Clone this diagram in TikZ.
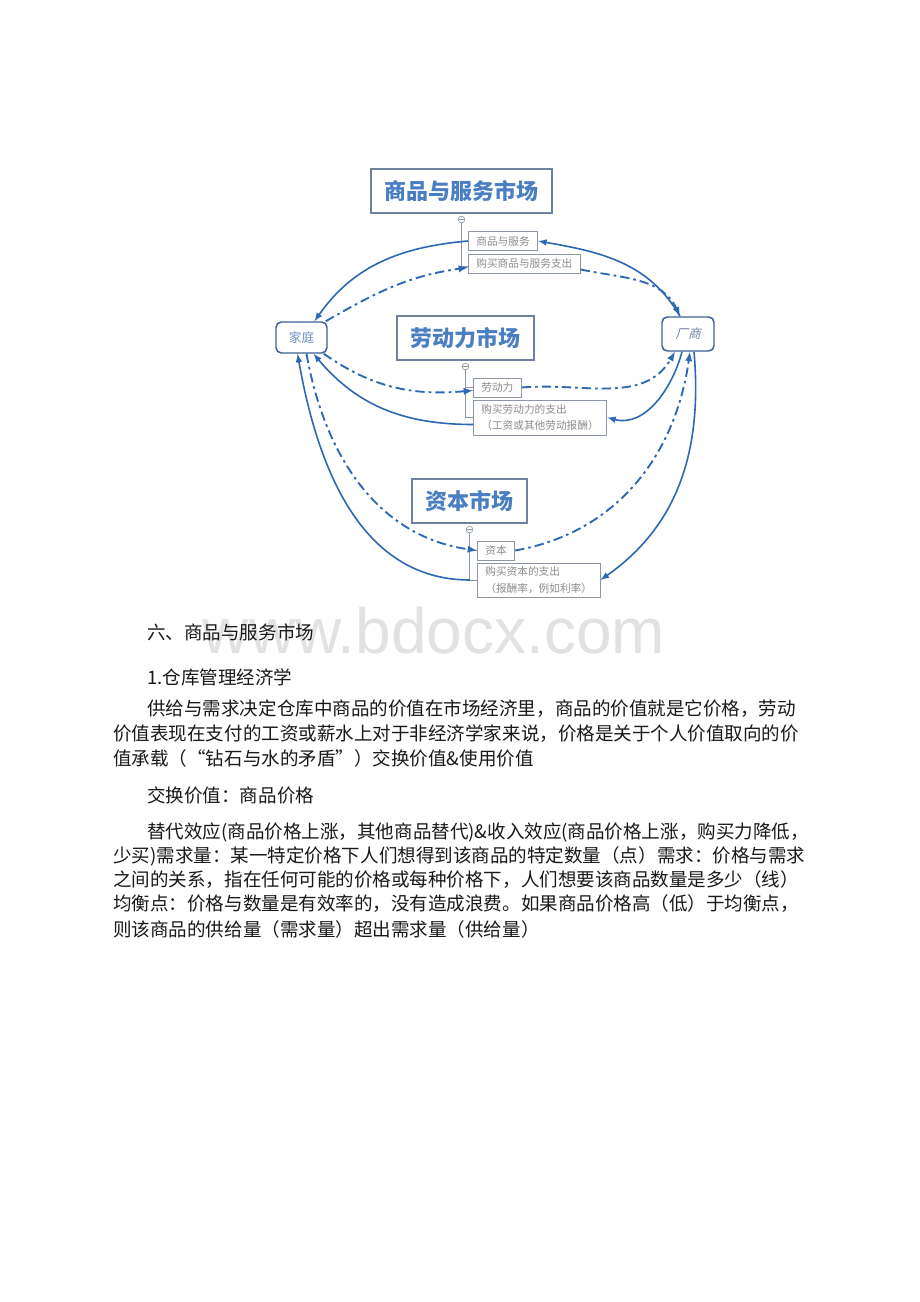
\documentclass[tikz,border=0pt]{standalone}
\usepackage{fontspec}
\newfontfamily\cjk{Noto Sans CJK SC}
\newfontfamily\cjkit{Noto Sans CJK SC}[FakeSlant=0.25]
\newfontfamily\wmfont{Liberation Sans}
\usetikzlibrary{%
  arrows,%
  calc%
}
\tikzset{>=latex}
\definecolor{flowblue}{RGB}{46,104,181}
\definecolor{mktblue}{RGB}{74,126,195}
\definecolor{mktline}{RGB}{110,130,160}
\definecolor{itemline}{RGB}{140,150,165}
\definecolor{itemgray}{RGB}{140,140,140}
\definecolor{agentline}{RGB}{60,95,150}
\definecolor{hometext}{RGB}{110,145,195}
\definecolor{firmtext}{RGB}{115,130,165}
\definecolor{wmgray}{RGB}{226,226,226}
\definecolor{bodyink}{RGB}{25,25,25}

\begin{document}
\begin{tikzpicture}[x=0.75pt,y=0.75pt,
    mktbox/.style={draw=mktline,line width=0.8pt,text=mktblue,inner sep=0pt,
      minimum height=33pt,font=\cjk\bfseries\fontsize{16.5}{18}\selectfont},
    subbox/.style={draw=itemline,line width=0.6pt,text=itemgray,anchor=west,
      align=left,inner xsep=6pt,inner ysep=2pt,minimum height=14.25pt,
      font=\cjk\fontsize{8}{12.5}\selectfont},
    agent/.style={draw=agentline,line width=1.1pt,rounded corners=4pt,inner sep=0pt},
    fold/.style={circle,draw=itemline,fill=white,line width=0.5pt,inner sep=0pt,
      minimum size=5pt},
    twig/.style={draw=itemline,line width=0.6pt},
    solidflow/.style={->,draw=flowblue,line width=1.2pt},
    dotflow/.style={solidflow,line width=1.4pt,dash pattern=on 7pt off 3pt on 2pt off 3pt},
    textline/.style={anchor=west,inner sep=0pt,text=bodyink,
      font=\cjk\fontsize{13.9}{16}\selectfont}]
  \fill[white] (0,0) rectangle (920,-1302);
  \useasboundingbox (0,0) rectangle (920,-1302);

  % households and firms
  \node[agent,minimum width=38.25pt,minimum height=23.25pt,text=hometext,
    font=\cjk\fontsize{9.5}{11}\selectfont] (home) at (301.5,-337.5) {家庭};
  \node[agent,minimum width=39pt,minimum height=25.5pt,text=firmtext,
    font=\cjkit\fontsize{9.5}{11}\selectfont] (firm) at (688,-334) {厂商};

  % goods and services market
  \node[mktbox,minimum width=135.75pt] (gmkt) at (461.5,-191) {商品与服务市场};
  \node[subbox] (ggoods) at (468,-241) {商品与服务};
  \node[subbox] (gspend) at (468,-263.5) {购买商品与服务支出};
  \node[fold] (gfold) at ($(gmkt.south)+(0,-6)$) {};
  \draw[twig] (gfold.south) |- (ggoods.west);
  \draw[twig] (gfold.south) |- ($(gspend.west)+(0,-3)$);
  \draw[twig] ([xshift=1pt]gfold.west) -- ([xshift=-1pt]gfold.east);

  % labour market
  \node[mktbox,minimum width=102.75pt] (lmkt) at (465.5,-338) {劳动力市场};
  \node[subbox] (llab) at (473,-387.5) {劳动力};
  \node[subbox,minimum height=26.25pt] (lwage) at (473,-417.5)
    {购买劳动力的支出\\（工资或其他劳动报酬）};
  \node[fold] (lfold) at ($(lmkt.south)+(0,-6)$) {};
  \draw[twig] (lfold.south) |- (llab.west);
  \draw[twig] (lfold.south) |- (lwage.west);
  \draw[twig] ([xshift=1pt]lfold.west) -- ([xshift=-1pt]lfold.east);

  % capital market
  \node[mktbox,minimum width=86.25pt] (cmkt) at (469.5,-501) {资本市场};
  \node[subbox] (ccap) at (477,-550.5) {资本};
  \node[subbox,minimum height=25.5pt] (cint) at (477,-580)
    {购买资本的支出\\（报酬率，例如利率）};
  \node[fold] (cfold) at ($(cmkt.south)+(0,-6)$) {};
  \draw[twig] (cfold.south) |- (ccap.west);
  \draw[twig] (cfold.south) |- (cint.west);
  \draw[twig] ([xshift=1pt]cfold.west) -- ([xshift=-1pt]cfold.east);

  % flows through the goods market
  \draw[solidflow] ($(firm.north)+(-8,0)$) to[out=120,in=-10] (ggoods.east);
  \draw[solidflow] (ggoods.west) to[out=185,in=55] ($(home.north)+(13,0)$);
  \draw[dotflow] ($(home.north east)+(-2,0)$) to[out=30,in=188] ($(gspend.west)+(0,-4)$);
  \draw[dotflow] ($(gspend.east)+(0,-6)$) to[out=-12,in=115] ($(firm.north)+(-8,0)$);

  % flows through the labour market
  \draw[dotflow] ($(home.south east)+(-4,0)$) to[out=-35,in=185] ($(llab.west)+(0,-3)$);
  \draw[dotflow] (llab.east) to[out=5,in=240] ($(firm.south)+(-13,0)$);
  \draw[solidflow] ($(firm.south)+(-6,0)$) to[out=255,in=-15] (lwage.east);
  \draw[solidflow] ($(lwage.west)+(0,-7)$) to[out=180,in=-50] ($(home.south)+(12,0)$);

  % flows through the capital market
  \draw[dotflow] ($(home.south)+(5,0)$) to[out=-80,in=172] (ccap.west);
  \draw[dotflow] (ccap.east) to[out=10,in=262] ($(firm.south)+(2,0)$);
  \draw[solidflow] ($(firm.south)+(6,0)$) to[out=-85,in=35] (cint.east);
  \draw[solidflow] ($(cint.west)+(-7,0)$) to[out=180,in=-80] ($(home.south)+(-4,0)$);

  % watermark and body text
  \node[anchor=base,inner sep=0pt,text=wmgray,font=\wmfont\fontsize{48}{48}\selectfont]
    (mark) at (434,-653) {www.bdocx.com};
  \node[textline] (sec) at (147,-632) {六、商品与服务市场};
  \node[textline] (sub) at (147,-677) {1.仓库管理经济学};
  \node[textline] (pa1) at (147,-709) {供给与需求决定仓库中商品的价值在市场经济里，商品的价值就是它价格，劳动};
  \node[textline] (pa2) at (113,-734) {价值表现在支付的工资或薪水上对于非经济学家来说，价格是关于个人价值取向的价};
  \node[textline] (pa3) at (113,-758) {值承载（“钻石与水的矛盾”）交换价值\&使用价值};
  \node[textline] (pb1) at (147,-795) {交换价值：商品价格};
  \node[textline] (pc1) at (147,-832) {替代效应(商品价格上涨，其他商品替代)\&收入效应(商品价格上涨，购买力降低，};
  \node[textline] (pc2) at (113,-856) {少买)需求量：某一特定价格下人们想得到该商品的特定数量（点）需求：价格与需求};
  \node[textline] (pc3) at (113,-880) {之间的关系，指在任何可能的价格或每种价格下，人们想要该商品数量是多少（线）};
  \node[textline] (pc4) at (113,-904) {均衡点：价格与数量是有效率的，没有造成浪费。如果商品价格高（低）于均衡点，};
  \node[textline] (pc5) at (113,-929) {则该商品的供给量（需求量）超出需求量（供给量）};
\end{tikzpicture}
\end{document}
